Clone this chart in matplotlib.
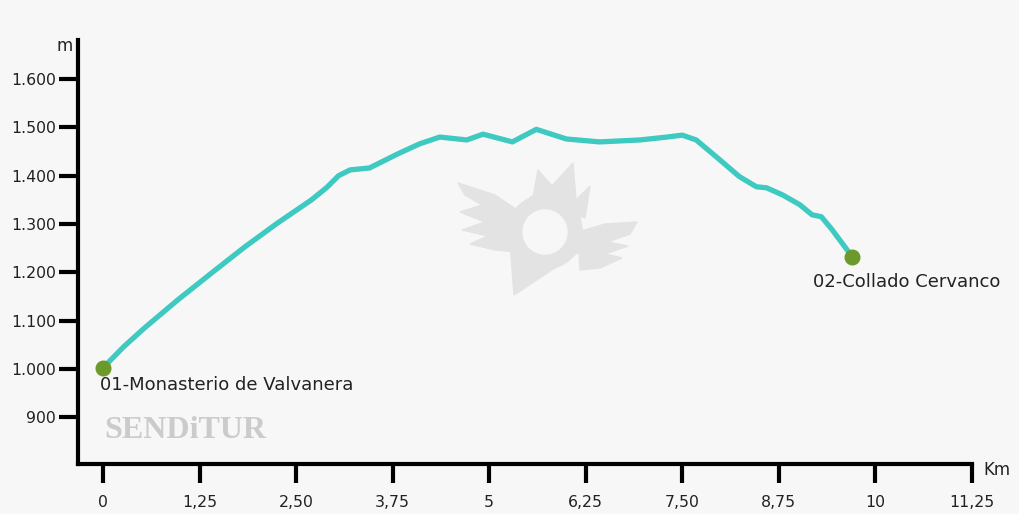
import matplotlib
matplotlib.use("Agg")
import matplotlib.pyplot as plt
from matplotlib.patches import Polygon, Ellipse

dist_km = [0, 0.27, 0.54, 0.97, 1.41, 1.84, 2.26, 2.70, 2.90, 3.05, 3.20, 3.45, 3.84, 4.10,
           4.36, 4.71, 4.92, 5.30, 5.61, 6.00, 6.43, 6.95, 7.30, 7.50, 7.68, 7.94, 8.24,
           8.46, 8.59, 8.80, 9.02, 9.18, 9.30, 9.44, 9.70]
elev_m = [1002, 1046, 1085, 1143, 1199, 1253, 1302, 1350, 1376, 1400, 1412, 1416, 1447, 1466,
          1480, 1474, 1486, 1470, 1496, 1476, 1470, 1474, 1480, 1484, 1474, 1439, 1398,
          1377, 1375, 1360, 1340, 1319, 1315, 1288, 1232]

x_ticks = [0, 1.25, 2.5, 3.75, 5, 6.25, 7.5, 8.75, 10, 11.25]
x_labels = ["0", "1,25", "2,50", "3,75", "5", "6,25", "7,50", "8,75", "10", "11,25"]
y_ticks = [900, 1000, 1100, 1200, 1300, 1400, 1500, 1600]
y_labels = ["900", "1.000", "1.100", "1.200", "1.300", "1.400", "1.500", "1.600"]
start_label = "01-Monasterio de Valvanera"
end_label = "02-Collado Cervanco"

BG = "#f7f7f7"
TXT = "#222222"
plt.rcParams['font.family'] = ['DejaVu Sans']

fig = plt.figure(figsize=(10.2, 5.14), dpi=100, facecolor=BG)
ax = fig.add_axes([78/1020, 1 - 464/514, (972-78)/1020, (464-40)/514])
ax.set_facecolor(BG)

# watermark logo (decorative)
wm = "#e3e3e3"
def fp(px, py):
    return (px/1020, 1 - py/514)
wing_l = [fp(*p) for p in [(458,183),(495,195),(520,212),(518,252),(495,250),(470,244),
                           (488,236),(462,230),(485,222),(460,212),(482,205),(465,195)]]
wing_r = [fp(*p) for p in [(637,222),(605,224),(578,232),(580,270),(600,268),(622,258),
                           (605,254),(628,246),(608,242),(630,234)]]
pin = [fp(*p) for p in [(514,295),(508,215),(540,190),(578,205),(585,248)]]
crown = [fp(*p) for p in [(533,198),(538,170),(552,186),(573,163),(576,200),(590,186),(585,218)]]
for poly in (wing_l, wing_r, pin, crown):
    fig.patches.append(Polygon(poly, closed=True, transform=fig.transFigure, color=wm, zorder=0.5))
fig.patches.append(Ellipse(fp(545, 232), 74/1020, 74/514, transform=fig.transFigure, color=wm, zorder=0.6))
fig.patches.append(Ellipse(fp(545, 232), 44/1020, 44/514, transform=fig.transFigure, color=BG, zorder=0.7))

ax.plot(dist_km, elev_m, color="#3ec9c1", lw=3.8, solid_capstyle="round", solid_joinstyle="round", zorder=3)
ax.plot([dist_km[0], dist_km[-1]], [elev_m[0], elev_m[-1]], "o", color="#6c9a2a", ms=10.5, zorder=4)

ax.set_xlim(-0.323, 11.25)
ax.set_ylim(803, 1681)
ax.set_xticks(x_ticks)
ax.set_xticklabels(x_labels)
ax.set_yticks(y_ticks)
ax.set_yticklabels(y_labels)
for s in ("top", "right"):
    ax.spines[s].set_visible(False)
for s in ("left", "bottom"):
    ax.spines[s].set_linewidth(3)
    ax.spines[s].set_color("black")
ax.tick_params(axis="both", length=14, width=3, color="black", labelsize=11.3, labelcolor=TXT)
ax.tick_params(axis="x", pad=8)
ax.tick_params(axis="y", pad=2)

ax.annotate(start_label, (dist_km[0], elev_m[0]), xytext=(-2, -12), textcoords="offset points",
            ha="left", va="center", fontsize=13, color=TXT)
ax.annotate(end_label, (dist_km[-1], elev_m[-1]), xytext=(-28, -18), textcoords="offset points",
            ha="left", va="center", fontsize=13, color=TXT)

fig.text(*fp(65, 46), "m", ha="center", va="center", fontsize=12, color=TXT)
fig.text(*fp(997, 470), "Km", ha="center", va="center", fontsize=12, color=TXT)
fig.text(*fp(104, 430), "SENDiTUR", ha="left", va="center", fontsize=23,
         family="Liberation Serif", weight="bold", color="#cbcbcb")

fig.savefig("out.png", dpi=100, facecolor=BG)
